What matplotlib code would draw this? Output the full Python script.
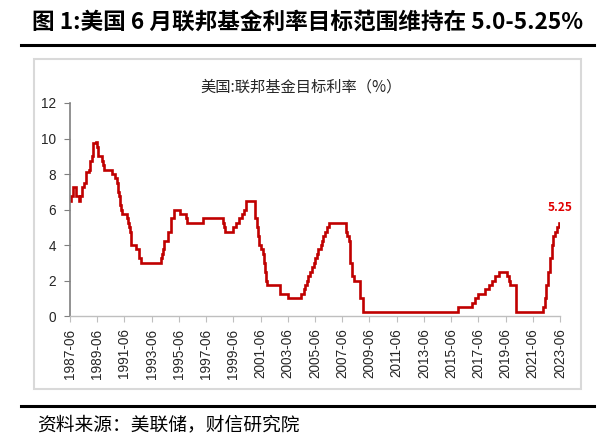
import matplotlib
matplotlib.use("Agg")
import matplotlib.pyplot as plt
from matplotlib.patches import Rectangle
from matplotlib.lines import Line2D

plt.rcParams['font.family'] = ['Noto Sans CJK SC', 'DejaVu Sans']

# Fed funds target (upper bound) change points
change_dates = [
    "1987-06", "1987-07", "1987-09", "1987-11", "1988-02", "1988-03", "1988-05",
    "1988-06", "1988-08", "1988-11", "1988-12", "1989-01", "1989-02", "1989-05",
    "1989-06", "1989-07", "1989-10", "1989-11", "1989-12", "1990-07", "1990-10",
    "1990-11", "1990-12", "1991-01", "1991-02", "1991-03", "1991-04", "1991-08",
    "1991-09", "1991-10", "1991-11", "1991-12", "1992-04", "1992-07", "1992-09",
    "1994-02", "1994-03", "1994-04", "1994-05", "1994-08", "1994-11", "1995-02",
    "1995-07", "1995-12", "1996-01", "1997-03", "1998-09", "1998-10", "1998-11",
    "1999-06", "1999-08", "1999-11", "2000-02", "2000-03", "2000-05", "2001-01",
    "2001-03", "2001-04", "2001-05", "2001-06", "2001-08", "2001-09", "2001-10",
    "2001-11", "2001-12", "2002-11", "2003-06", "2004-06", "2004-08", "2004-09",
    "2004-11", "2004-12", "2005-02", "2005-03", "2005-05", "2005-06", "2005-08",
    "2005-09", "2005-11", "2005-12", "2006-01", "2006-03", "2006-05", "2006-06",
    "2007-09", "2007-10", "2007-12", "2008-01", "2008-03", "2008-04", "2008-10",
    "2008-12", "2015-12", "2016-12", "2017-03", "2017-06", "2017-12", "2018-03",
    "2018-06", "2018-09", "2018-12", "2019-07", "2019-09", "2019-10", "2020-03",
    "2022-03", "2022-05", "2022-06", "2022-07", "2022-09", "2022-11", "2022-12",
    "2023-02", "2023-03", "2023-05", "2023-06",
]
rates = [
    6.5, 6.75, 7.25, 6.75, 6.5, 6.75, 7.25,
    7.5, 8.125, 8.25, 8.75, 9.0, 9.75, 9.8125,
    9.5, 9.0, 8.75, 8.5, 8.25, 8.0, 7.75,
    7.5, 7.0, 6.75, 6.25, 6.0, 5.75, 5.5,
    5.25, 5.0, 4.75, 4.0, 3.75, 3.25, 3.0,
    3.25, 3.5, 3.75, 4.25, 4.75, 5.5, 6.0,
    5.75, 5.5, 5.25, 5.5, 5.25, 5.0, 4.75,
    5.0, 5.25, 5.5, 5.75, 6.0, 6.5, 5.5,
    5.0, 4.5, 4.0, 3.75, 3.5, 3.0, 2.5,
    2.0, 1.75, 1.25, 1.0, 1.25, 1.5, 1.75,
    2.0, 2.25, 2.5, 2.75, 3.0, 3.25, 3.5,
    3.75, 4.0, 4.25, 4.5, 4.75, 5.0, 5.25,
    4.75, 4.5, 4.25, 3.0, 2.25, 2.0, 1.0,
    0.25, 0.5, 0.75, 1.0, 1.25, 1.5, 1.75,
    2.0, 2.25, 2.5, 2.25, 2.0, 1.75, 0.25,
    0.5, 1.0, 1.75, 2.5, 3.25, 4.0, 4.5,
    4.75, 5.0, 5.25, 5.25,
]
tick_labels = ["1987-06", "1989-06", "1991-06", "1993-06", "1995-06", "1997-06",
               "1999-06", "2001-06", "2003-06", "2005-06", "2007-06", "2009-06",
               "2011-06", "2013-06", "2015-06", "2017-06", "2019-06", "2021-06",
               "2023-06"]
y_ticks = [0, 2, 4, 6, 8, 10, 12]
last_label = "5.25"

def to_year(s):
    y, m = s.split("-")
    return int(y) + (int(m) - 1) / 12.0

xs = [to_year(d) for d in change_dates]
tick_pos = [to_year(t) for t in tick_labels]

W, H = 603, 445
fig = plt.figure(figsize=(W / 100, H / 100), dpi=100)

# Figure title and rules
fig.text(32 / W, 1 - 22 / H, "图 1:美国 6 月联邦基金利率目标范围维持在 5.0-5.25%",
         fontsize=16.3, fontweight='bold', ha='left', va='center', color='black')
fig.add_artist(Line2D([21 / W, 594 / W], [1 - 45 / H, 1 - 45 / H], color='black', lw=2.2))
fig.add_artist(Line2D([21 / W, 594 / W], [1 - 406 / H, 1 - 406 / H], color='black', lw=2.2))
fig.add_artist(Rectangle((34 / W, 1 - 389 / H), (581 - 34) / W, (389 - 59) / H,
                         fill=False, edgecolor='#D9D9D9', lw=1.5))
fig.text(37 / W, 1 - 425 / H, "资料来源：美联储，财信研究院", fontsize=13.5,
         ha='left', va='center', color='black', fontstyle='italic')

ax = fig.add_axes([70 / W, 1 - 316 / H, 490 / W, 213 / H])
ax.plot(xs, rates, drawstyle='steps-post', color='#C00000', lw=1.9, solid_joinstyle='miter')
ax.set_xlim(tick_pos[0], tick_pos[-1])
ax.set_ylim(0, 12)
ax.set_yticks(y_ticks)
ax.set_xticks(tick_pos)
ax.set_xticklabels(tick_labels, rotation=90, fontsize=9.8, color='#262626',
                   family=['Liberation Sans', 'DejaVu Sans'])
for lab in ax.get_yticklabels():
    lab.set_family(['Liberation Sans', 'DejaVu Sans'])
ax.tick_params(axis='y', labelsize=9.8, labelcolor='#262626', length=4, color='#7F7F7F', pad=6)
ax.tick_params(axis='x', length=4, color='#BFBFBF', pad=5)
for s in ['top', 'right']:
    ax.spines[s].set_visible(False)
ax.spines['left'].set_color('#7F7F7F')
ax.spines['left'].set_linewidth(1.2)
ax.spines['bottom'].set_color('#BFBFBF')
ax.spines['bottom'].set_linewidth(1.0)

ax.annotate(last_label, (xs[-1], rates[-1]), xytext=(0, 11), textcoords='offset points',
            ha='center', va='center', color='#E00000', fontsize=8.5, fontweight='bold')

fig.text(301 / W, 1 - 87 / H, "美国:联邦基金目标利率（%）", fontsize=11,
         ha='center', va='center', color='#262626')

fig.savefig("out.png", dpi=100)
